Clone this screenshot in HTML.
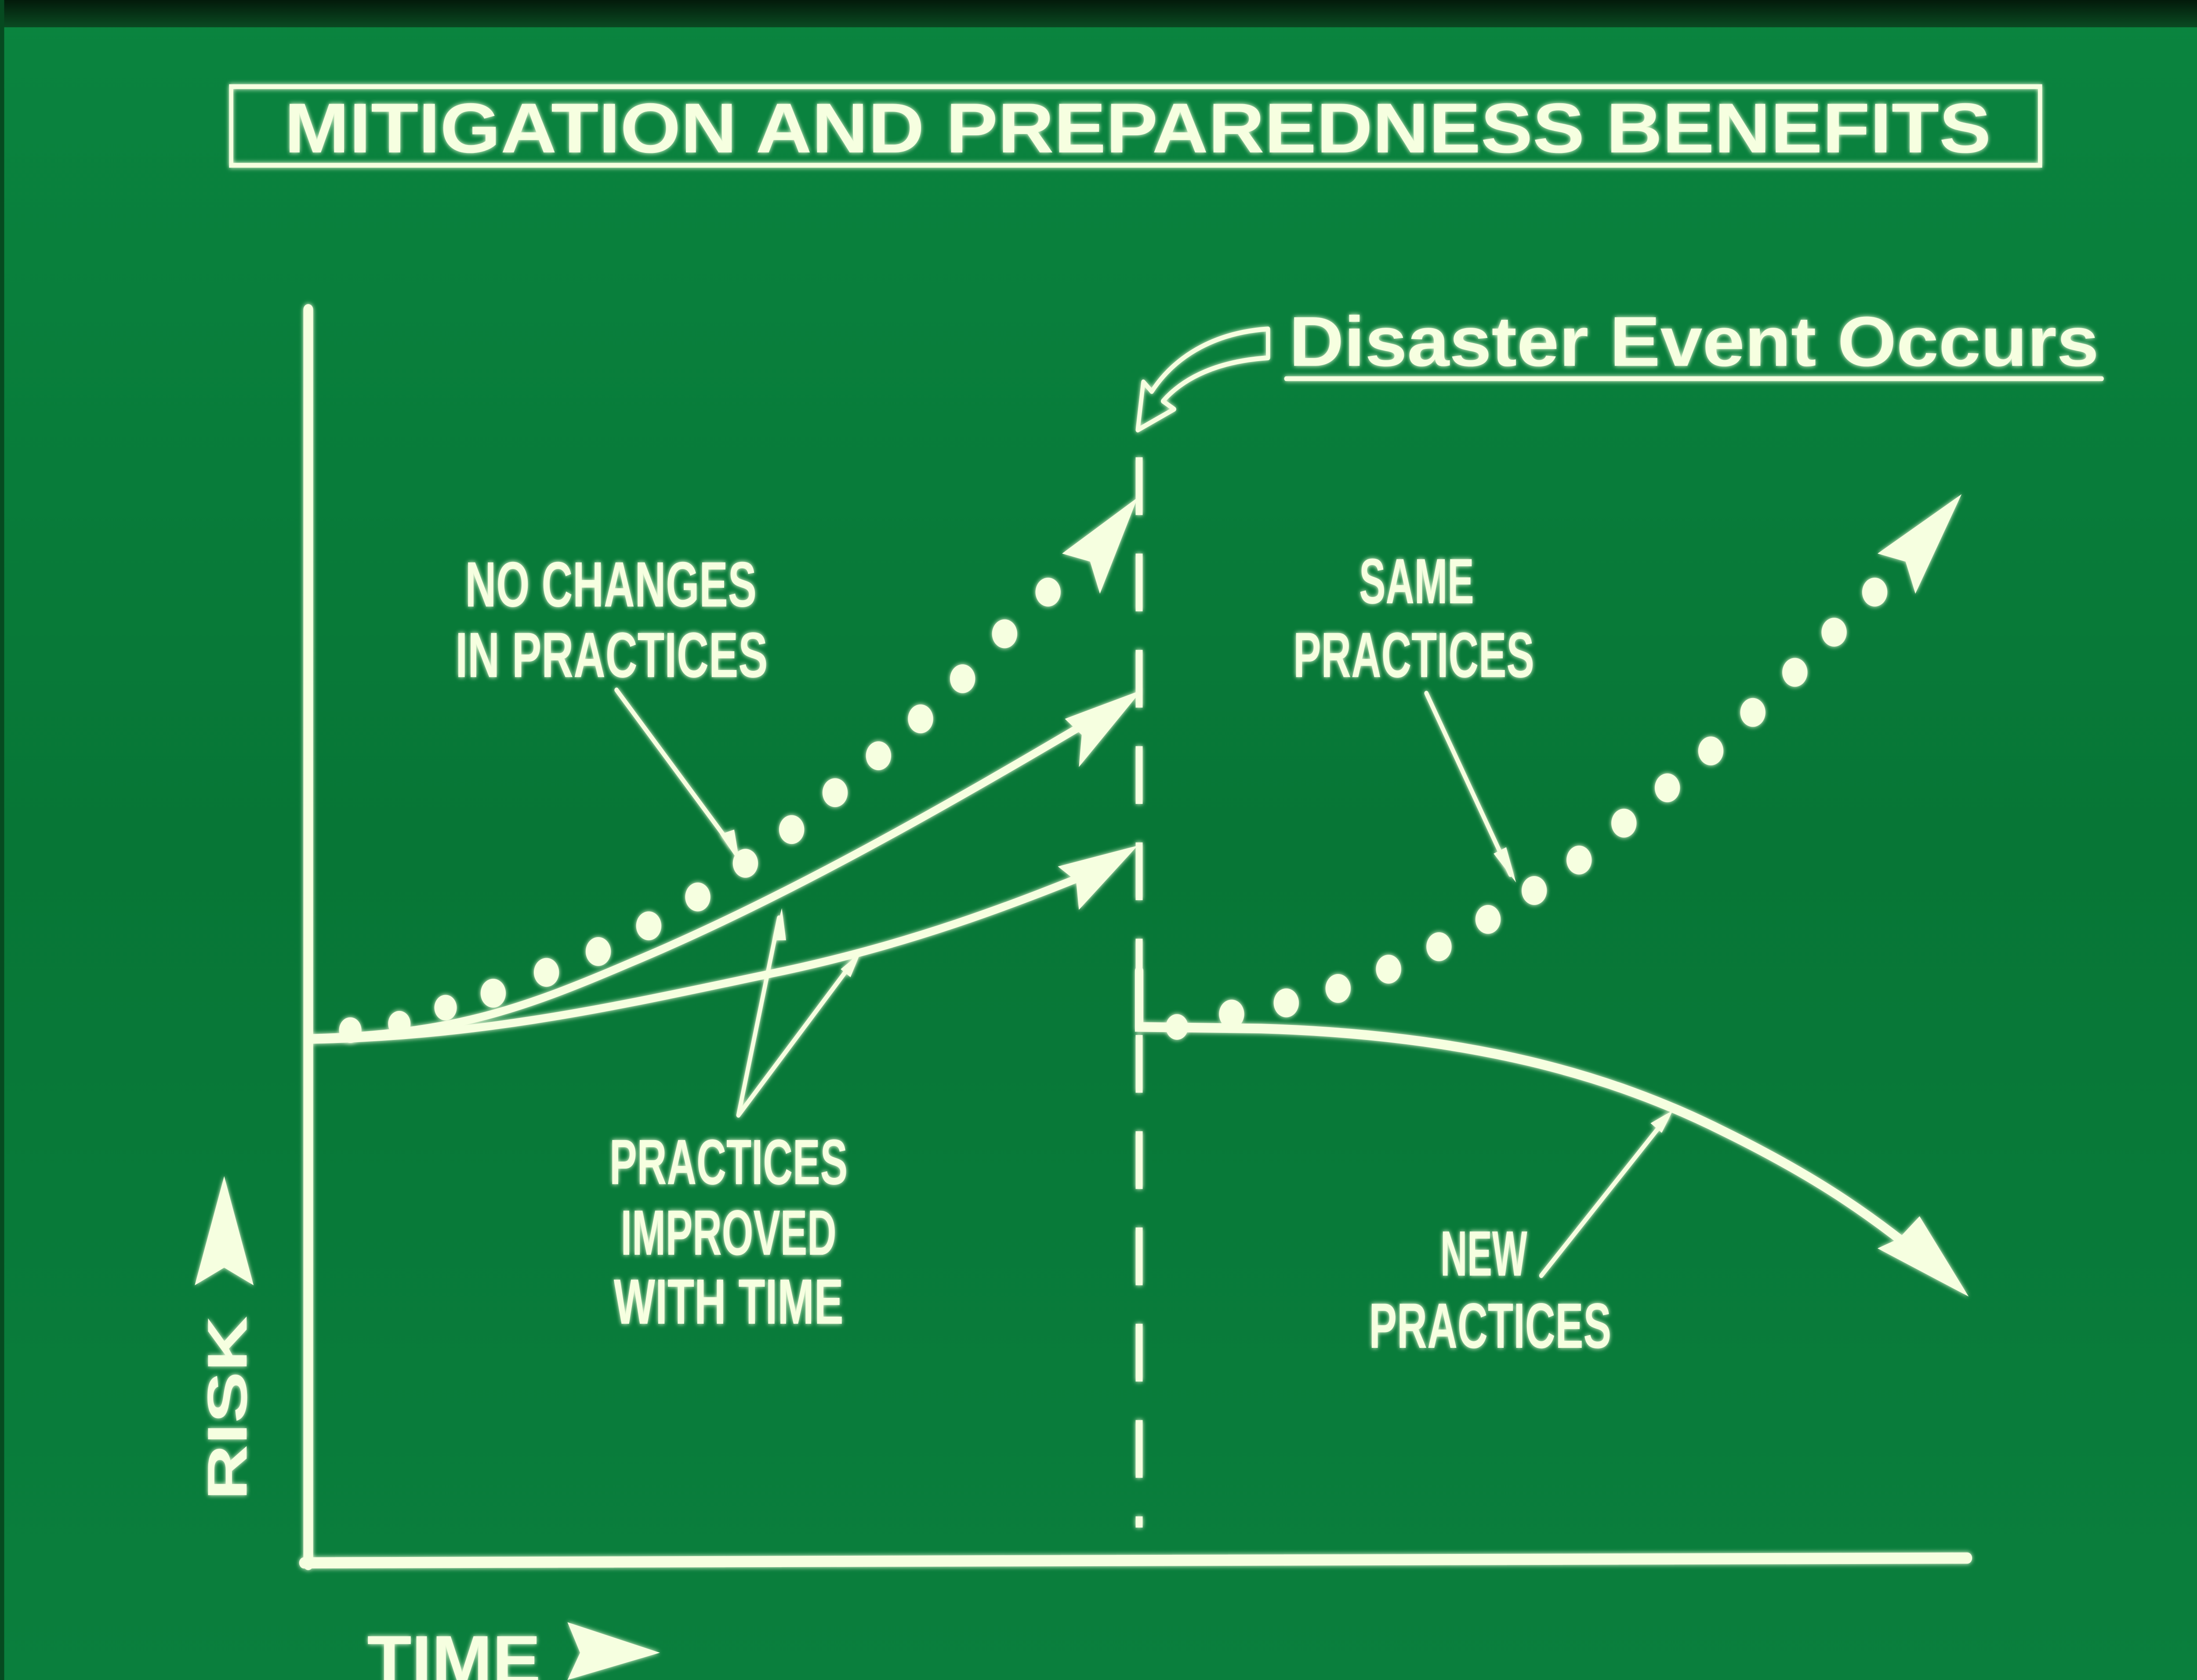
<!DOCTYPE html>
<html><head><meta charset="utf-8"><style>
html,body{margin:0;padding:0;background:#087838;width:100%;height:100%;overflow:hidden;}
svg{display:block;width:100vw;height:100vh;}
text{font-family:"Liberation Sans",sans-serif;font-weight:bold;fill:#f6ffe0;}
</style></head><body>
<svg viewBox="0 0 1568 1047" preserveAspectRatio="none" xmlns="http://www.w3.org/2000/svg">
<defs>
<linearGradient id="bg" x1="0" y1="0" x2="0" y2="1">
<stop offset="0" stop-color="#0a843f"/><stop offset="0.5" stop-color="#077636"/><stop offset="1" stop-color="#0a7f3d"/>
</linearGradient>
<linearGradient id="top" x1="0" y1="0" x2="0" y2="1">
<stop offset="0" stop-color="#031a0a"/><stop offset="1" stop-color="#0a4a22"/>
</linearGradient>
<filter id="glow" x="-5%" y="-5%" width="110%" height="110%"><feGaussianBlur stdDeviation="1.5" result="b"/><feMerge><feMergeNode in="b"/><feMergeNode in="SourceGraphic"/></feMerge></filter>
</defs>
<rect width="1568" height="1047" fill="url(#bg)"/>
<rect width="1568" height="17" fill="url(#top)"/>
<rect width="3" height="1047" fill="#064a20"/>
<g filter="url(#glow)" stroke="#f6ffe0" fill="none" stroke-linecap="round">
<rect x="165" y="54" width="1291" height="49" stroke-width="3"/>
<line x1="220" y1="193" x2="220" y2="975" stroke-width="7"/>
<line x1="217" y1="974" x2="1404" y2="971" stroke-width="7"/>
<line x1="813" y1="285" x2="813" y2="952" stroke-width="5" stroke-dasharray="36 24" stroke-linecap="butt"/>
<path d="M220 647 C320 645 370 630 450 600 C560 560 680 500 790 443" stroke-width="5"/>
<path d="M220 648 C350 646 450 625 560 605 C650 588 720 565 790 540" stroke-width="5"/>
<path d="M813 605 L813 640 L900 641 C1050 645 1150 670 1230 705 C1300 735 1340 760 1385 793" stroke-width="6"/>
<line x1="440" y1="430" x2="522" y2="527" stroke-width="3"/>
<line x1="1018" y1="432" x2="1078" y2="545" stroke-width="3"/>
<line x1="527" y1="695" x2="556" y2="572" stroke-width="3"/>
<line x1="527" y1="695" x2="610" y2="598" stroke-width="3"/>
<line x1="1100" y1="795" x2="1190" y2="696" stroke-width="3"/>
<line x1="918" y1="236" x2="1500" y2="236" stroke-width="3"/>
<path d="M905 205 L905 223 C870 225 845 235 830 250 L838 255 L812 268 L816 238 L822 244 C840 220 870 207 905 205 Z" stroke-width="3" stroke-linejoin="round"/>
</g>
<g filter="url(#glow)" fill="#f6ffe0">
<polygon points="815,430 760,448 772,458 770,478"/>
<polygon points="812,527 755,540 768,549 770,567"/>
<polygon points="812,310 758,345 778,350 785,370"/>
<polygon points="1400,308 1340,345 1360,350 1367,370"/>
<polygon points="1405,808 1340,778 1355,772 1370,758"/>
<polygon points="528,538 514,520 524,517"/>
<polygon points="1082,550 1066,532 1075,528"/>
<polygon points="558,566 552,586 561,586"/>
<polygon points="614,594 600,604 607,609"/>
<polygon points="1194,692 1178,700 1186,706"/>
<polygon points="160,733 181,801 160,790 139,801"/>
<polygon points="471,1030 405,1011 414,1030 405,1047"/>
<g>
<circle cx="250" cy="642" r="8"/><circle cx="285" cy="638" r="8"/><circle cx="318" cy="628" r="8"/><circle cx="352" cy="619" r="9"/>
<circle cx="390" cy="606" r="9"/><circle cx="427" cy="593" r="9"/><circle cx="463" cy="577" r="9"/><circle cx="498" cy="559" r="9"/>
<circle cx="532" cy="538" r="9"/><circle cx="565" cy="517" r="9"/><circle cx="596" cy="494" r="9"/><circle cx="627" cy="471" r="9"/>
<circle cx="657" cy="448" r="9"/><circle cx="687" cy="423" r="9"/><circle cx="717" cy="395" r="9"/><circle cx="748" cy="369" r="9"/>
<circle cx="840" cy="640" r="8"/><circle cx="879" cy="632" r="9"/><circle cx="918" cy="625" r="9"/><circle cx="955" cy="616" r="9"/>
<circle cx="991" cy="604" r="9"/><circle cx="1027" cy="590" r="9"/><circle cx="1062" cy="573" r="9"/><circle cx="1095" cy="555" r="9"/>
<circle cx="1127" cy="536" r="9"/><circle cx="1159" cy="513" r="9"/><circle cx="1190" cy="491" r="9"/><circle cx="1221" cy="468" r="9"/>
<circle cx="1251" cy="444" r="9"/><circle cx="1281" cy="419" r="9"/><circle cx="1309" cy="394" r="9"/><circle cx="1338" cy="369" r="9"/>
</g>
<text x="203" y="95" font-size="44" textLength="1218" lengthAdjust="spacingAndGlyphs">MITIGATION AND PREPAREDNESS BENEFITS</text>
<text x="920" y="228" font-size="44" textLength="578" lengthAdjust="spacingAndGlyphs">Disaster Event Occurs</text>
<text x="332" y="378" font-size="40" textLength="208" lengthAdjust="spacingAndGlyphs">NO CHANGES</text>
<text x="325" y="422" font-size="40" textLength="223" lengthAdjust="spacingAndGlyphs">IN PRACTICES</text>
<text x="970" y="376" font-size="40" textLength="82" lengthAdjust="spacingAndGlyphs">SAME</text>
<text x="923" y="422" font-size="40" textLength="172" lengthAdjust="spacingAndGlyphs">PRACTICES</text>
<text x="435" y="738" font-size="40" textLength="170" lengthAdjust="spacingAndGlyphs">PRACTICES</text>
<text x="443" y="782" font-size="40" textLength="154" lengthAdjust="spacingAndGlyphs">IMPROVED</text>
<text x="438" y="825" font-size="40" textLength="164" lengthAdjust="spacingAndGlyphs">WITH TIME</text>
<text x="1028" y="795" font-size="40" textLength="62" lengthAdjust="spacingAndGlyphs">NEW</text>
<text x="977" y="840" font-size="40" textLength="173" lengthAdjust="spacingAndGlyphs">PRACTICES</text>
<text transform="translate(176,935) rotate(-90)" font-size="40" textLength="115" lengthAdjust="spacingAndGlyphs">RISK</text>
<text x="262" y="1050" font-size="44" textLength="124" lengthAdjust="spacingAndGlyphs">TIME</text>
</g>
</svg>
</body></html>
